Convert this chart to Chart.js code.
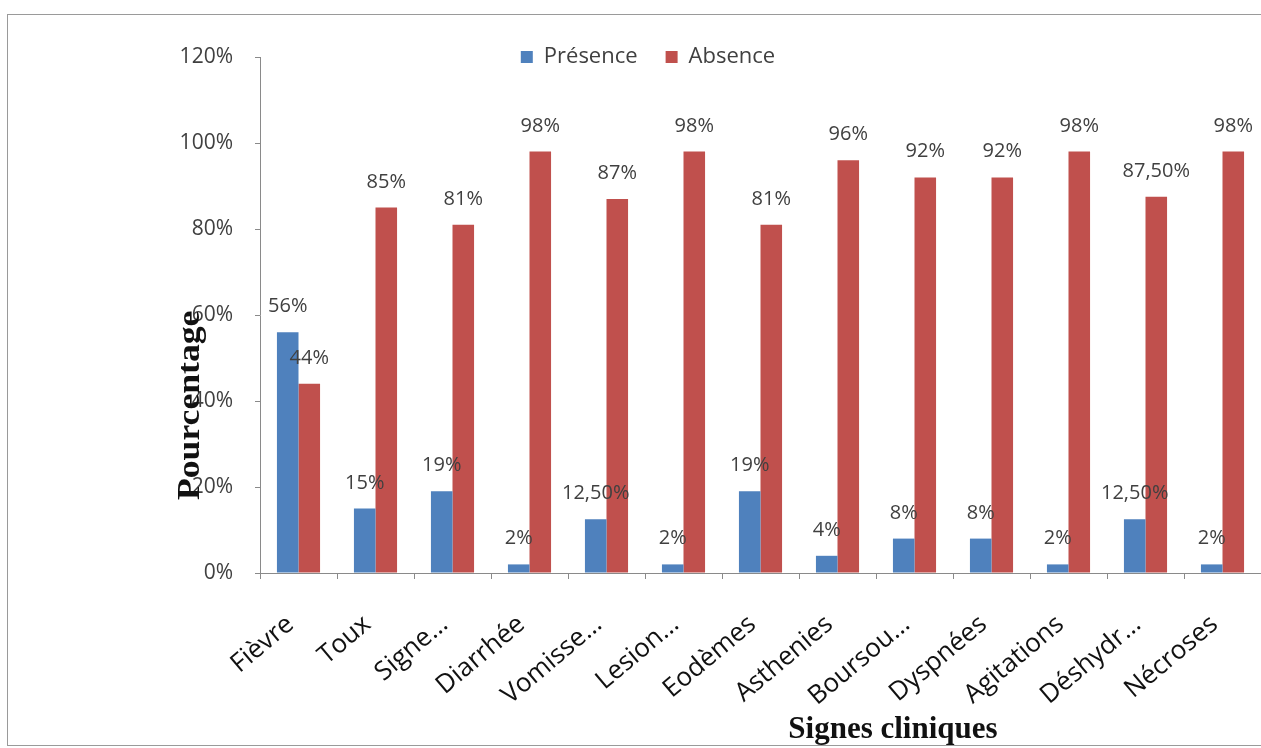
<!DOCTYPE html>
<html>
<head>
<meta charset="utf-8">
<script src="https://cdn.jsdelivr.net/npm/chart.js@4.4.1/dist/chart.umd.min.js"></script>
<style>
  body { margin: 0; background: #fff; overflow: hidden; }
  #wrap { position: relative; width: 1261px; height: 748px; }
  #frame { position: absolute; left: 7px; top: 14px; width: 1270px; height: 730px; border: 1px solid #9a9a9a; }
  canvas { position: absolute; left: 0; top: 0; }
</style>
</head>
<body>
<div id="wrap">
  <div id="frame"></div>
  <canvas id="chart" width="1261" height="748"></canvas>
</div>
<script>
// Données
const categories = ["Fièvre", "Toux", "Signe…", "Diarrhée", "Vomisse…", "Lesion…", "Eodèmes",
  "Asthenies", "Boursou…", "Dyspnées", "Agitations", "Déshydr…", "Nécroses"];
const presence = [56, 15, 19, 2, 12.5, 2, 19, 4, 8, 8, 2, 12.5, 2];
const absence = [44, 85, 81, 98, 87, 98, 81, 96, 92, 92, 98, 87.5, 98];
const yTickValues = [0, 20, 40, 60, 80, 100, 120];
const yTitle = "Pourcentage";
const xTitle = "Signes cliniques";

const labelFont = "'Open Sans', sans-serif";

// Format à la française
const pct = v => Number.isInteger(v) ? `${v}%` : `${v.toFixed(2).replace('.', ',')}%`;

// Étiquettes au-dessus des barres
const barLabels = {
  id: 'barLabels',
  afterDatasetsDraw(chart) {
    const { ctx } = chart;
    ctx.save();
    ctx.font = `20px ${labelFont}`;
    ctx.fillStyle = '#404040';
    ctx.textAlign = 'center';
    ctx.textBaseline = 'alphabetic';
    chart.data.datasets.forEach((ds, i) => {
      chart.getDatasetMeta(i).data.forEach((bar, j) => {
        ctx.fillText(pct(ds.data[j]), bar.x, bar.y - 20);
      });
    });
    ctx.restore();
  }
};

// Titres des axes (placés comme dans l'original)
const axisTitles = {
  id: 'axisTitles',
  afterDraw(chart) {
    const { ctx, chartArea, scales } = chart;
    ctx.save();
    ctx.fillStyle = '#111';
    ctx.font = "bold 31px 'Liberation Serif', serif";
    ctx.textAlign = 'center';
    ctx.textBaseline = 'middle';
    ctx.translate(chartArea.left - 69, scales.y.getPixelForValue(39));
    ctx.rotate(-Math.PI / 2);
    ctx.scale(1.15, 1);
    ctx.fillText(yTitle, 0, 0);
    ctx.restore();

    ctx.save();
    ctx.fillStyle = '#111';
    ctx.font = "bold 31px 'Liberation Serif', serif";
    ctx.textAlign = 'center';
    ctx.textBaseline = 'alphabetic';
    ctx.fillText(xTitle, scales.x.getPixelForValue(7.72), chartArea.bottom + 165);
    ctx.restore();
  }
};

// Légende collée en haut de la zone de tracé
const legendFit = {
  id: 'legendFit',
  beforeInit(chart) {
    const fit = chart.legend.fit;
    chart.legend.fit = function () {
      fit.call(this);
      this.height = 39;
    };
  },
  beforeDraw(chart) {
    // agrandir la zone de clip pour ne pas couper le texte
    chart.legend.bottom = chart.legend.top + 80;
    chart.legend.height = 80;
  }
};

new Chart(document.querySelector('#chart').getContext('2d'), {
  type: 'bar',
  data: {
    labels: categories,
    datasets: [
      { label: 'Présence', data: presence, backgroundColor: '#4F81BD' },
      { label: 'Absence', data: absence, backgroundColor: '#C0504D' },
    ]
  },
  plugins: [barLabels, axisTitles, legendFit],
  options: {
    responsive: false,
    animation: false,
    layout: { padding: { left: 30, right: -5, top: 18, bottom: 0 } },
    datasets: { bar: { categoryPercentage: 0.56, barPercentage: 1 } },
    plugins: {
      tooltip: { enabled: false },
      legend: {
        position: 'top',
        labels: {
          boxWidth: 12,
          boxHeight: 12,
          padding: 28,
          color: '#404040',
          font: { family: labelFont, size: 22 },
        }
      }
    },
    scales: {
      x: {
        grid: { drawOnChartArea: false, offset: true, tickLength: 6, color: '#8a8a8a' },
        border: { color: '#8a8a8a' },
        ticks: {
          color: '#111',
          font: { family: labelFont, size: 26 },
          minRotation: 40,
          maxRotation: 40,
          autoSkip: false,
          padding: 30,
          labelOffset: -8,
        },
        afterFit(scale) {
          scale.height = 175;
          scale.paddingLeft = 0;
          scale.paddingRight = 0;
        }
      },
      y: {
        min: 0,
        max: 120,
        grid: { drawOnChartArea: false, tickLength: 5, color: '#8a8a8a' },
        border: { color: '#8a8a8a' },
        afterBuildTicks(scale) { scale.ticks = yTickValues.map(value => ({ value })); },
        ticks: {
          color: '#404040',
          font: { family: labelFont, size: 21 },
          padding: 22,
          callback: v => `${v}%`,
        },
        afterFit(scale) { scale.width = 230; }
      }
    }
  }
});
</script>
</body>
</html>
